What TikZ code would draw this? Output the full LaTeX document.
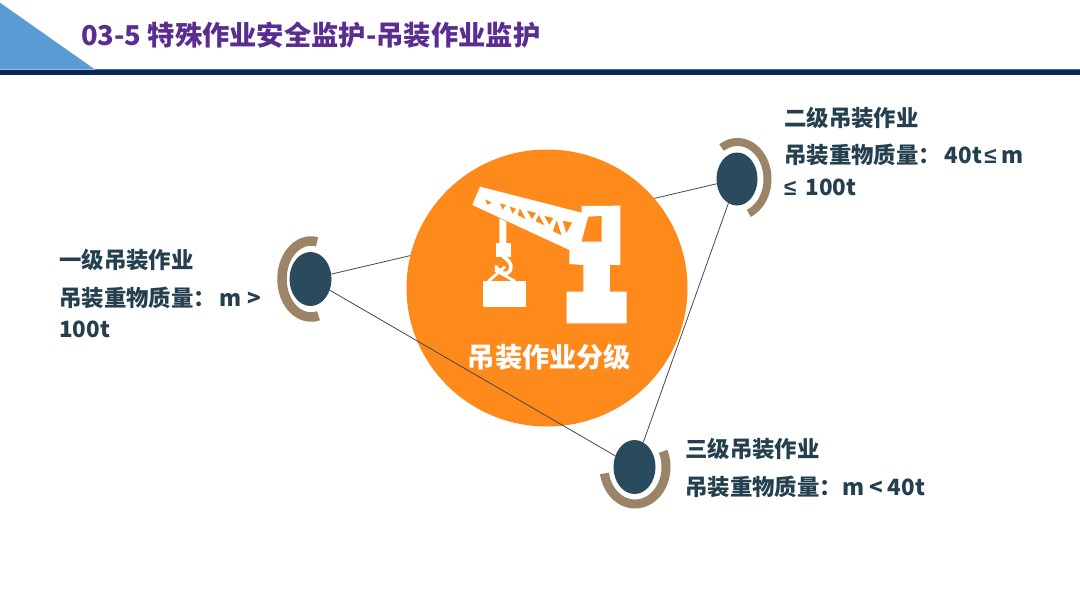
\documentclass[tikz,border=0pt]{standalone}
\usepackage{fontspec}
\setmainfont{Noto Sans CJK SC}
\newfontfamily\lsym{Liberation Sans}
\usetikzlibrary{shapes.geometric}
\definecolor{navy}{HTML}{2A4A5E}
\definecolor{tan}{HTML}{9C8468}
\definecolor{orng}{HTML}{FF8A1C}
\definecolor{ink}{HTML}{24404F}
\definecolor{ttl}{HTML}{5B2D91}
\definecolor{tri}{HTML}{5A9BD3}
\definecolor{bar}{HTML}{0B2558}
\definecolor{barlite}{HTML}{3F6FB5}
\tikzset{
  hubdot/.style={ellipse,fill=navy,minimum width=42pt,minimum height=54pt,inner sep=0pt},
  ringarc/.style={draw=tan,line width=8pt,samples=50,smooth},
  link/.style={draw=black!72,line width=0.8pt},
  head/.style={anchor=west,inner sep=0pt,text=ink,font=\fontsize{22.4}{25}\selectfont\bfseries},
  body/.style={anchor=west,inner sep=0pt,text=ink,font=\fontsize{22.4}{25}\selectfont\bfseries},
  boom/.style={fill=white,draw=none},
  truss/.style={fill=orng,draw=none}
}
\newcommand{\lesym}{{\lsym ≤}}
\begin{document}
\begin{tikzpicture}[x=1pt,y=-1pt]
\useasboundingbox (0,0) rectangle (1080,608);
\fill[white] (0,0) rectangle (1080,608);
% header
\fill[tri] (0,2.7) -- (95,69.5) -- (0,69.5) -- cycle;
\fill[barlite] (95,69.2) rectangle (1080,70.6);
\fill[bar] (0,70.4) rectangle (1080,74.6);
\node[anchor=west,inner sep=0pt,text=ttl,font=\fontsize{27.3}{30}\selectfont\bfseries] (title) at (81,35) {03-5 特殊作业安全监护-吊装作业监护};
% hubs and named nodes
\coordinate (cc) at (547,288);
\node[hubdot] (lft) at (310.5,279) {};
\node[hubdot,minimum width=41pt,minimum height=53pt] (rgt) at (737,179) {};
\node[hubdot] (bot) at (634.5,467) {};
\draw[link] (lft) -- (rgt);
\fill[orng] (cc) ellipse [x radius=140.5,y radius=138.5];
\draw[link] (lft) -- (bot);
\draw[link] (rgt) -- (bot);
% rings
\draw[ringarc,shift={(737.5,179)},domain=-68:122] plot ({30*cos(\x)},{-37*sin(\x)});
\draw[ringarc,line width=9.5pt,shift={(311,279)},domain=78:285] plot ({29*cos(\x)},{-38*sin(\x)});
\draw[ringarc,line width=9pt,shift={(635,467)},domain=190:385] plot ({31*cos(\x)},{-37*sin(\x)});
% crane
\begin{scope}[shift={(440,170)},x=0.3333pt,y=-0.3333pt]
\fill[boom] (120,50) -- (425,128) -- (425,108) -- (541,107) -- (541,285) -- (510,285) -- (510,365) -- (560,365) -- (560,460) -- (380,460) -- (380,365) -- (430,365) -- (430,285) -- (388,282) -- (388,240) -- (97,105) -- cycle;
\fill[truss] (445,140) -- (485,138) -- (485,215) -- (425,215) -- cycle;
\fill[truss] (136,88) -- (155,98) -- (142,104) -- cycle;
\fill[truss] (180,100) -- (198,105) -- (188,119) -- cycle;
\fill[truss] (209,110) -- (228,116) -- (218,131) -- cycle;
\fill[truss] (240,115) -- (233,135) -- (257,147) -- cycle;
\fill[truss] (261,122) -- (288,129) -- (276,147) -- cycle;
\fill[truss] (296,135) -- (287,154) -- (313,165) -- cycle;
\fill[truss] (313,138) -- (340,144) -- (328,164) -- cycle;
\fill[truss] (350,151) -- (339,183) -- (365,196) -- cycle;
\fill[truss] (368,152) -- (396,158) -- (379,189) -- cycle;
\fill[white] (178,145) -- (199,155) -- (199,220) -- (178,220) -- cycle;
\fill[white] (168,220) -- (212,220) -- (212,260) -- (168,260) -- cycle;
\draw[white,line width=3.6pt,line cap=round] (190,260) .. controls (215,275) and (222,300) .. (200,310) .. controls (185,312) and (175,300) .. (168,290);
\draw[white,line width=2.8pt] (145,334) -- (195,290);
\draw[white,line width=2.8pt] (165,300) -- (225,334);
\fill[white] (129,332) rectangle (258,411);
\end{scope}
\node[anchor=center,inner sep=0pt,text=white,font=\fontsize{27.2}{30}\selectfont\bfseries] (ctext) at (549.5,357) {吊装作业分级};
% labels
\node[head] (lh) at (59,260) {一级吊装作业};
\node[body] (lb1) at (59,298) {吊装重物质量：\kern4pt m >};
\node[body] (lb2) at (59,329) {100t};
\node[head] (rh) at (784,118) {二级吊装作业};
\node[body] (rb1) at (784,155) {吊装重物质量：\kern4pt 40t\kern2pt\lesym\kern5pt m};
\node[body] (rb2) at (784,187) {\lesym\kern9pt 100t};
\node[head] (bh) at (685,449) {三级吊装作业};
\node[body] (bb1) at (685,487) {吊装重物质量：m < 40t};
\end{tikzpicture}
\end{document}
